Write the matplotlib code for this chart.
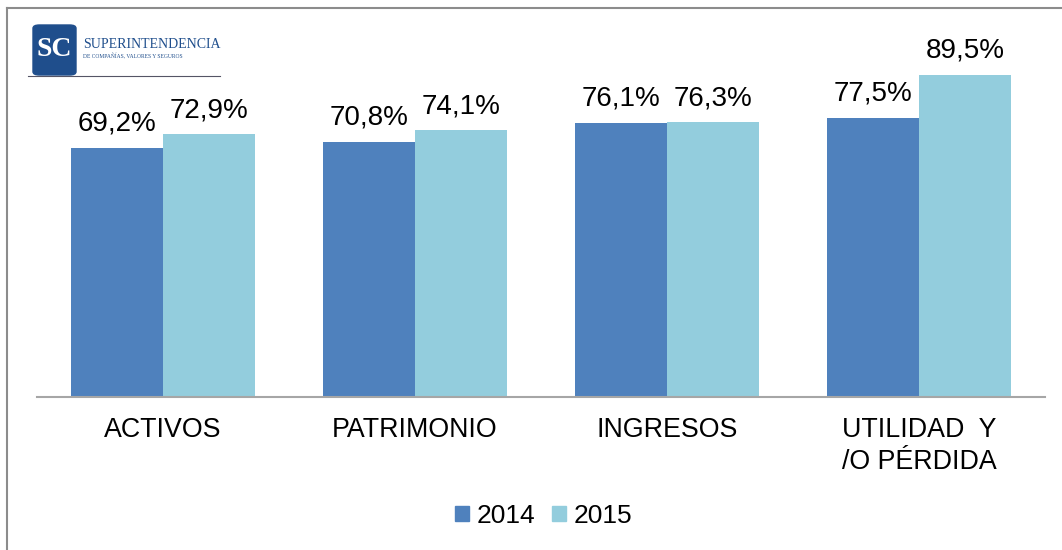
import matplotlib.pyplot as plt
from matplotlib.patches import Patch, FancyBboxPatch
from matplotlib.lines import Line2D
import numpy as np

categories = ["ACTIVOS", "PATRIMONIO", "INGRESOS", "UTILIDAD  Y\n/O PÉRDIDA"]
years = ["2014", "2015"]
vals_2014 = [69.2, 70.8, 76.1, 77.5]
vals_2015 = [72.9, 74.1, 76.3, 89.5]

col_2014 = "#4F81BD"
col_2015 = "#93CDDD"

plt.rcParams["font.family"] = ["Liberation Sans", "DejaVu Sans"]

fig = plt.figure(figsize=(10.62, 5.5), dpi=100)
ax = fig.add_axes([0.0348, 0.278, 0.9492, 0.655])

x = np.arange(len(categories))
w = 0.365
b1 = ax.bar(x - w / 2, vals_2014, w, color=col_2014)
b2 = ax.bar(x + w / 2, vals_2015, w, color=col_2015)

def fmt(v):
    return f"{v:.1f}%".replace(".", ",")

for bars, vals in ((b1, vals_2014), (b2, vals_2015)):
    for rect, v in zip(bars, vals):
        ax.annotate(fmt(v), (rect.get_x() + rect.get_width() / 2, rect.get_height()),
                    xytext=(0, 8), textcoords="offset points",
                    ha="center", va="bottom", fontsize=20)

ax.set_xlim(-0.5, len(categories) - 0.5)
ax.set_ylim(0, 100)
ax.set_yticks([])
ax.set_xticks(x)
ax.set_xticklabels(categories, fontsize=19.3, linespacing=1.3)
ax.tick_params(axis="x", length=0, pad=14)
for s in ("top", "right", "left"):
    ax.spines[s].set_visible(False)
ax.spines["bottom"].set_color("#A6A6A6")
ax.spines["bottom"].set_linewidth(1.5)

# legend
handles = [Patch(color=col_2014), Patch(color=col_2015)]
fig.legend(handles, years, loc="center", bbox_to_anchor=(0.512, 0.062), ncol=2,
           frameon=False, fontsize=19, handlelength=0.5, handleheight=0.5,
           handletextpad=0.3, columnspacing=0.65)

# outer frame: top and left lines only
fig.add_artist(Line2D([7 / 1062, 1.0], [1 - 8 / 550, 1 - 8 / 550],
                      transform=fig.transFigure, color="#8C8C8C", lw=1.5))
fig.add_artist(Line2D([7 / 1062, 7 / 1062], [0, 1 - 8 / 550],
                      transform=fig.transFigure, color="#8C8C8C", lw=1.5))

# logo
logo = FancyBboxPatch((33 / 1062, 1 - 75 / 550), 43 / 1062, 50 / 550,
                      boxstyle="round,pad=0,rounding_size=0.006",
                      transform=fig.transFigure, color="#1F4E8C")
fig.add_artist(logo)
fig.text(54.5 / 1062, 1 - 50 / 550, "SC", color="white", fontsize=20,
         family="Liberation Serif", ha="center", va="center", weight="bold")
fig.text(83 / 1062, 1 - 44 / 550, "SUPERINTENDENCIA", color="#1F4E8C",
         fontsize=10, family="Liberation Serif", ha="left", va="center")
fig.text(83 / 1062, 1 - 56 / 550, "DE COMPAÑÍAS, VALORES Y SEGUROS", color="#1F4E8C",
         fontsize=4, family="Liberation Serif", ha="left", va="center")
fig.add_artist(Line2D([28 / 1062, 220 / 1062], [1 - 76 / 550, 1 - 76 / 550],
                      transform=fig.transFigure, color="#555566", lw=0.8))

fig.savefig("out.png", dpi=100)
